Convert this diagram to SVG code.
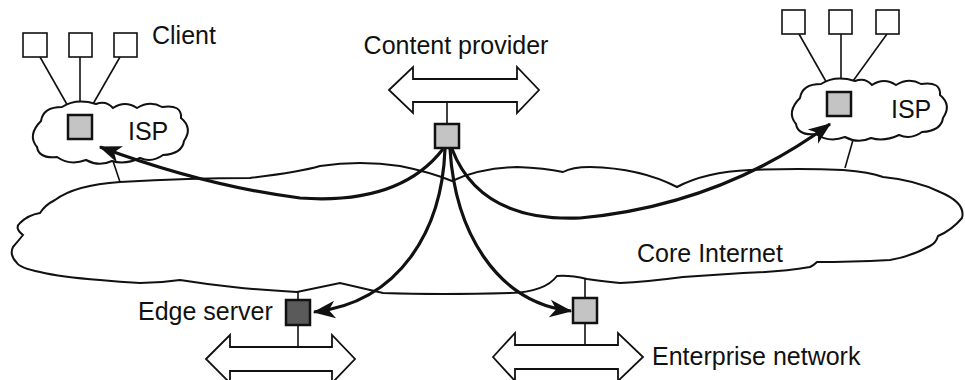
<svg xmlns="http://www.w3.org/2000/svg" width="965" height="380" viewBox="0 0 965 380">
<style>
  .bg{fill:#ffffff}
  .thin{fill:none;stroke:#111;stroke-width:1.6}
  .cloud{fill:#ffffff;stroke:#111;stroke-width:2}
  .client{fill:#ffffff;stroke:#111;stroke-width:1.6}
  .srv{fill:#c4c4c4;stroke:#111;stroke-width:2.5}
  .srvdark{fill:#5a5a5a;stroke:#111;stroke-width:2.5}
  .dbl{fill:#ffffff;stroke:#111;stroke-width:1.8;stroke-linejoin:miter}
  .flow{fill:none;stroke:#111;stroke-width:3.2;marker-end:url(#ah)}
  .lbl{font-family:"Liberation Sans",Arial,sans-serif;font-size:25px;fill:#111}
</style>
<defs>
  <marker id="ah" markerUnits="userSpaceOnUse" markerWidth="30" markerHeight="30" refX="0" refY="0" viewBox="-20 -10 24 20" orient="auto" overflow="visible">
    <path d="M1,0 L-17,-7 L-12,0 L-17,7 Z" fill="#111"/>
  </marker>
  <path id="ispcloud" d="M37,147 Q27,135 41,121 Q43,107 62,107 Q76,98 96,104 Q106,100 113,108 Q125,100 137,108 Q150,100 162,107 Q182,104 181,118 Q193,128 184,141 Q182,154 163,155 Q152,163 140,158 Q125,165 112,161 Q99,167 86,160 Q70,166 57,157 Q39,159 37,147 Z"/>
</defs>
<rect class="bg" x="0" y="0" width="965" height="380"/>

<g id="core-internet">
  <path class="cloud" d="M55,200 Q75,185 120,182 Q190,178 250,178 Q300,172 320,166 Q360,160 400,166 Q430,172 452,181 Q480,168 517,167 Q545,168 563,172 Q572,167 590,167 Q640,168 677,187 Q705,172 750,170 Q800,168 843,170 Q870,172 883,177 Q915,180 940,192 Q966,203 962,218 Q952,230 938,236 Q936,243 930,246 Q910,257 890,260 Q850,262 817,262 Q814,265 810,267 Q780,272 743,273 Q700,276 683,277 Q645,282 620,283 Q600,281 587,279 Q570,275 557,276 Q545,292 510,293 Q440,295 383,293 L340,283 L297,292 Q260,290 233,287 Q205,284 180,280 Q160,283 140,283 Q120,282 100,280 Q60,277 40,272 Q20,268 17,263 Q9,255 13,247 Q19,240 23,235 Q14,228 20,223 Q28,215 40,213 Q45,205 55,200 Z"/>
  <text class="lbl" x="637" y="262">Core Internet</text>
</g>

<g id="isp-left">
  <line class="thin" x1="40" y1="57" x2="69" y2="108"/>
  <line class="thin" x1="80" y1="57" x2="80" y2="104"/>
  <line class="thin" x1="120" y1="57" x2="93" y2="104"/>
  <line class="thin" x1="113" y1="161" x2="120" y2="182"/>
  <use href="#ispcloud" class="cloud"/>
  <rect class="srv" x="68" y="115" width="24" height="24"/>
  <text class="lbl" x="128" y="140">ISP</text>
</g>

<g id="clients-left">
  <rect class="client" x="23" y="33" width="24" height="24"/>
  <rect class="client" x="69" y="33" width="23" height="24"/>
  <rect class="client" x="114" y="33" width="23" height="24"/>
  <text class="lbl" x="152" y="44">Client</text>
</g>

<g id="isp-right">
  <line class="thin" x1="799" y1="34" x2="828" y2="85"/>
  <line class="thin" x1="841" y1="34" x2="841" y2="81"/>
  <line class="thin" x1="887" y1="34" x2="853" y2="81"/>
  <line class="thin" x1="853" y1="140" x2="845" y2="168"/>
  <use href="#ispcloud" class="cloud" transform="translate(759,-23)"/>
  <rect class="srv" x="827" y="92" width="24" height="24"/>
  <text class="lbl" x="891" y="118">ISP</text>
</g>

<g id="clients-right">
  <rect class="client" x="782" y="10" width="23" height="24"/>
  <rect class="client" x="829" y="10" width="23" height="24"/>
  <rect class="client" x="876" y="10" width="23" height="24"/>
</g>

<g id="content-provider">
  <path class="dbl" d="M389,90 L413,67 L413,79 L517,79 L517,67 L539,90 L517,113 L517,102 L413,102 L413,113 Z"/>
  <line class="thin" x1="447" y1="102" x2="447" y2="124"/>
  <rect class="srv" x="435" y="124" width="24" height="24"/>
  <text class="lbl" x="456" y="54" text-anchor="middle">Content provider</text>
</g>

<g id="edge-server">
  <line class="thin" x1="298" y1="292" x2="298" y2="347"/>
  <path class="dbl" d="M206,359 L230,335 L230,347 L332,347 L332,335 L355,359 L332,383 L332,371 L230,371 L230,383 Z"/>
  <rect class="srvdark" x="286" y="300" width="24" height="25"/>
  <text class="lbl" x="138" y="320">Edge server</text>
</g>

<g id="enterprise-network">
  <line class="thin" x1="585" y1="278" x2="585" y2="345"/>
  <path class="dbl" d="M493,357 L515,333 L515,345 L618,345 L618,333 L643,357 L618,381 L618,369 L515,369 L515,381 Z"/>
  <rect class="srv" x="573" y="298" width="24" height="25"/>
  <text class="lbl" x="652" y="365">Enterprise network</text>
</g>

<g id="connectors">
  <path class="flow" d="M443,149 Q400,205 300,198 Q205,186 100,147"/>
  <path class="flow" d="M452,149 Q480,222 580,218 Q720,205 830,124"/>
  <path class="flow" d="M445,149 C442,230 400,302 314,312"/>
  <path class="flow" d="M450,149 C455,230 495,302 571,311"/>
</g>
</svg>
